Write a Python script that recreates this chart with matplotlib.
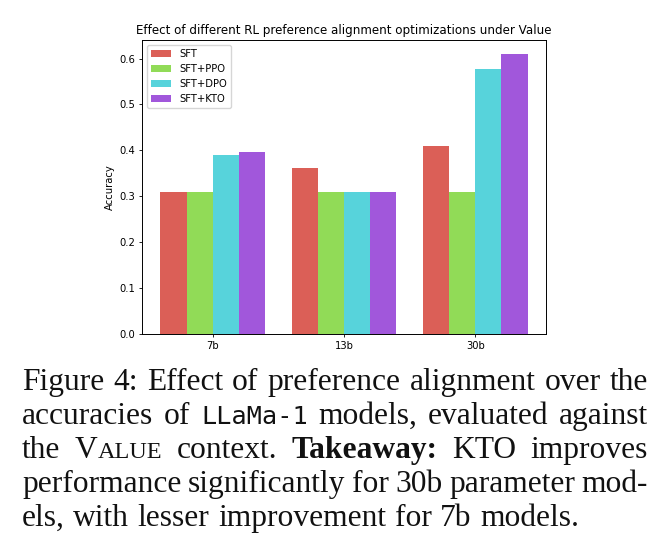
import matplotlib
matplotlib.use("Agg")
import matplotlib.pyplot as plt
import numpy as np

W, H = 671, 541

# chart data
models = ["7b", "13b", "30b"]
methods = ["SFT", "SFT+PPO", "SFT+DPO", "SFT+KTO"]
sft = [0.309, 0.361, 0.410]
sft_ppo = [0.310, 0.309, 0.309]
sft_dpo = [0.391, 0.309, 0.577]
sft_kto = [0.397, 0.310, 0.610]
colors = ["#db5f57", "#91db57", "#57d3db", "#a157db"]

# caption: plain strings are roman, lists are one word built from styled pieces
caption_lines = [
    ["Figure 4: Effect of preference alignment over the"],
    ["accuracies of", [("LLaMa-1", "tt")], "models, evaluated against"],
    ["the", [("V", "rm"), ("ALUE", "sc")], "context.", [("Takeaway:", "bf")], "KTO improves"],
    ["performance significantly for 30b parameter mod-"],
    ["els, with lesser improvement for 7b models."],
]

fig = plt.figure(figsize=(W / 100, H / 100), dpi=100)

ax = fig.add_axes([142 / W, 1 - 334 / H, 404 / W, 294 / H])
x = np.arange(len(models))
series = [sft, sft_ppo, sft_dpo, sft_kto]
for k, (vals, name, c) in enumerate(zip(series, methods, colors)):
    ax.bar(x + (k - 1.5) * 0.2, vals, 0.2, color=c, label=name)

ax.set_xticks(x)
ax.set_xticklabels(models)
ax.set_ylabel("Accuracy", fontsize=7.2, labelpad=3)
ax.set_title("Effect of different RL preference alignment optimizations under Value",
             fontsize=8.6, pad=4.5)
ax.tick_params(labelsize=7.2, length=2.5, width=0.6, pad=2.5)
for s in ax.spines.values():
    s.set_linewidth(0.7)
ax.legend(loc="upper left", fontsize=7.2)

# caption, justified like the paper
fs = 22.7
styles = {
    "rm": dict(family="Liberation Serif", size=fs),
    "bf": dict(family="Liberation Serif", size=fs, weight="bold"),
    "tt": dict(family="DejaVu Sans Mono", size=fs * 0.8),
    "sc": dict(family="Liberation Serif", size=fs * 0.77),
}
renderer = fig.canvas.get_renderer()
left, right = 22, 648
for i, line in enumerate(caption_lines):
    words = []
    for item in line:
        if isinstance(item, str):
            words += [[(w, "rm")] for w in item.split()]
        else:
            words.append(item)
    y = 1 - (390 + 34 * i) / H
    placed = []
    widths = []
    for word in words:
        arts = []
        total_w = 0
        for txt, st in word:
            t = fig.text(0, y, txt, va="baseline", ha="left", color="#111111", **styles[st])
            wd = t.get_window_extent(renderer).width
            arts.append((t, wd))
            total_w += wd
        placed.append(arts)
        widths.append(total_w)
    if i < len(caption_lines) - 1:
        gap = (right - left - sum(widths)) / (len(words) - 1)
    else:
        gap = fs * 100 / 72 * 0.27
    xpos = left
    for arts in placed:
        for t, wd in arts:
            t.set_x(xpos / W)
            xpos += wd
        xpos += gap

fig.savefig("out.png", dpi=100)
